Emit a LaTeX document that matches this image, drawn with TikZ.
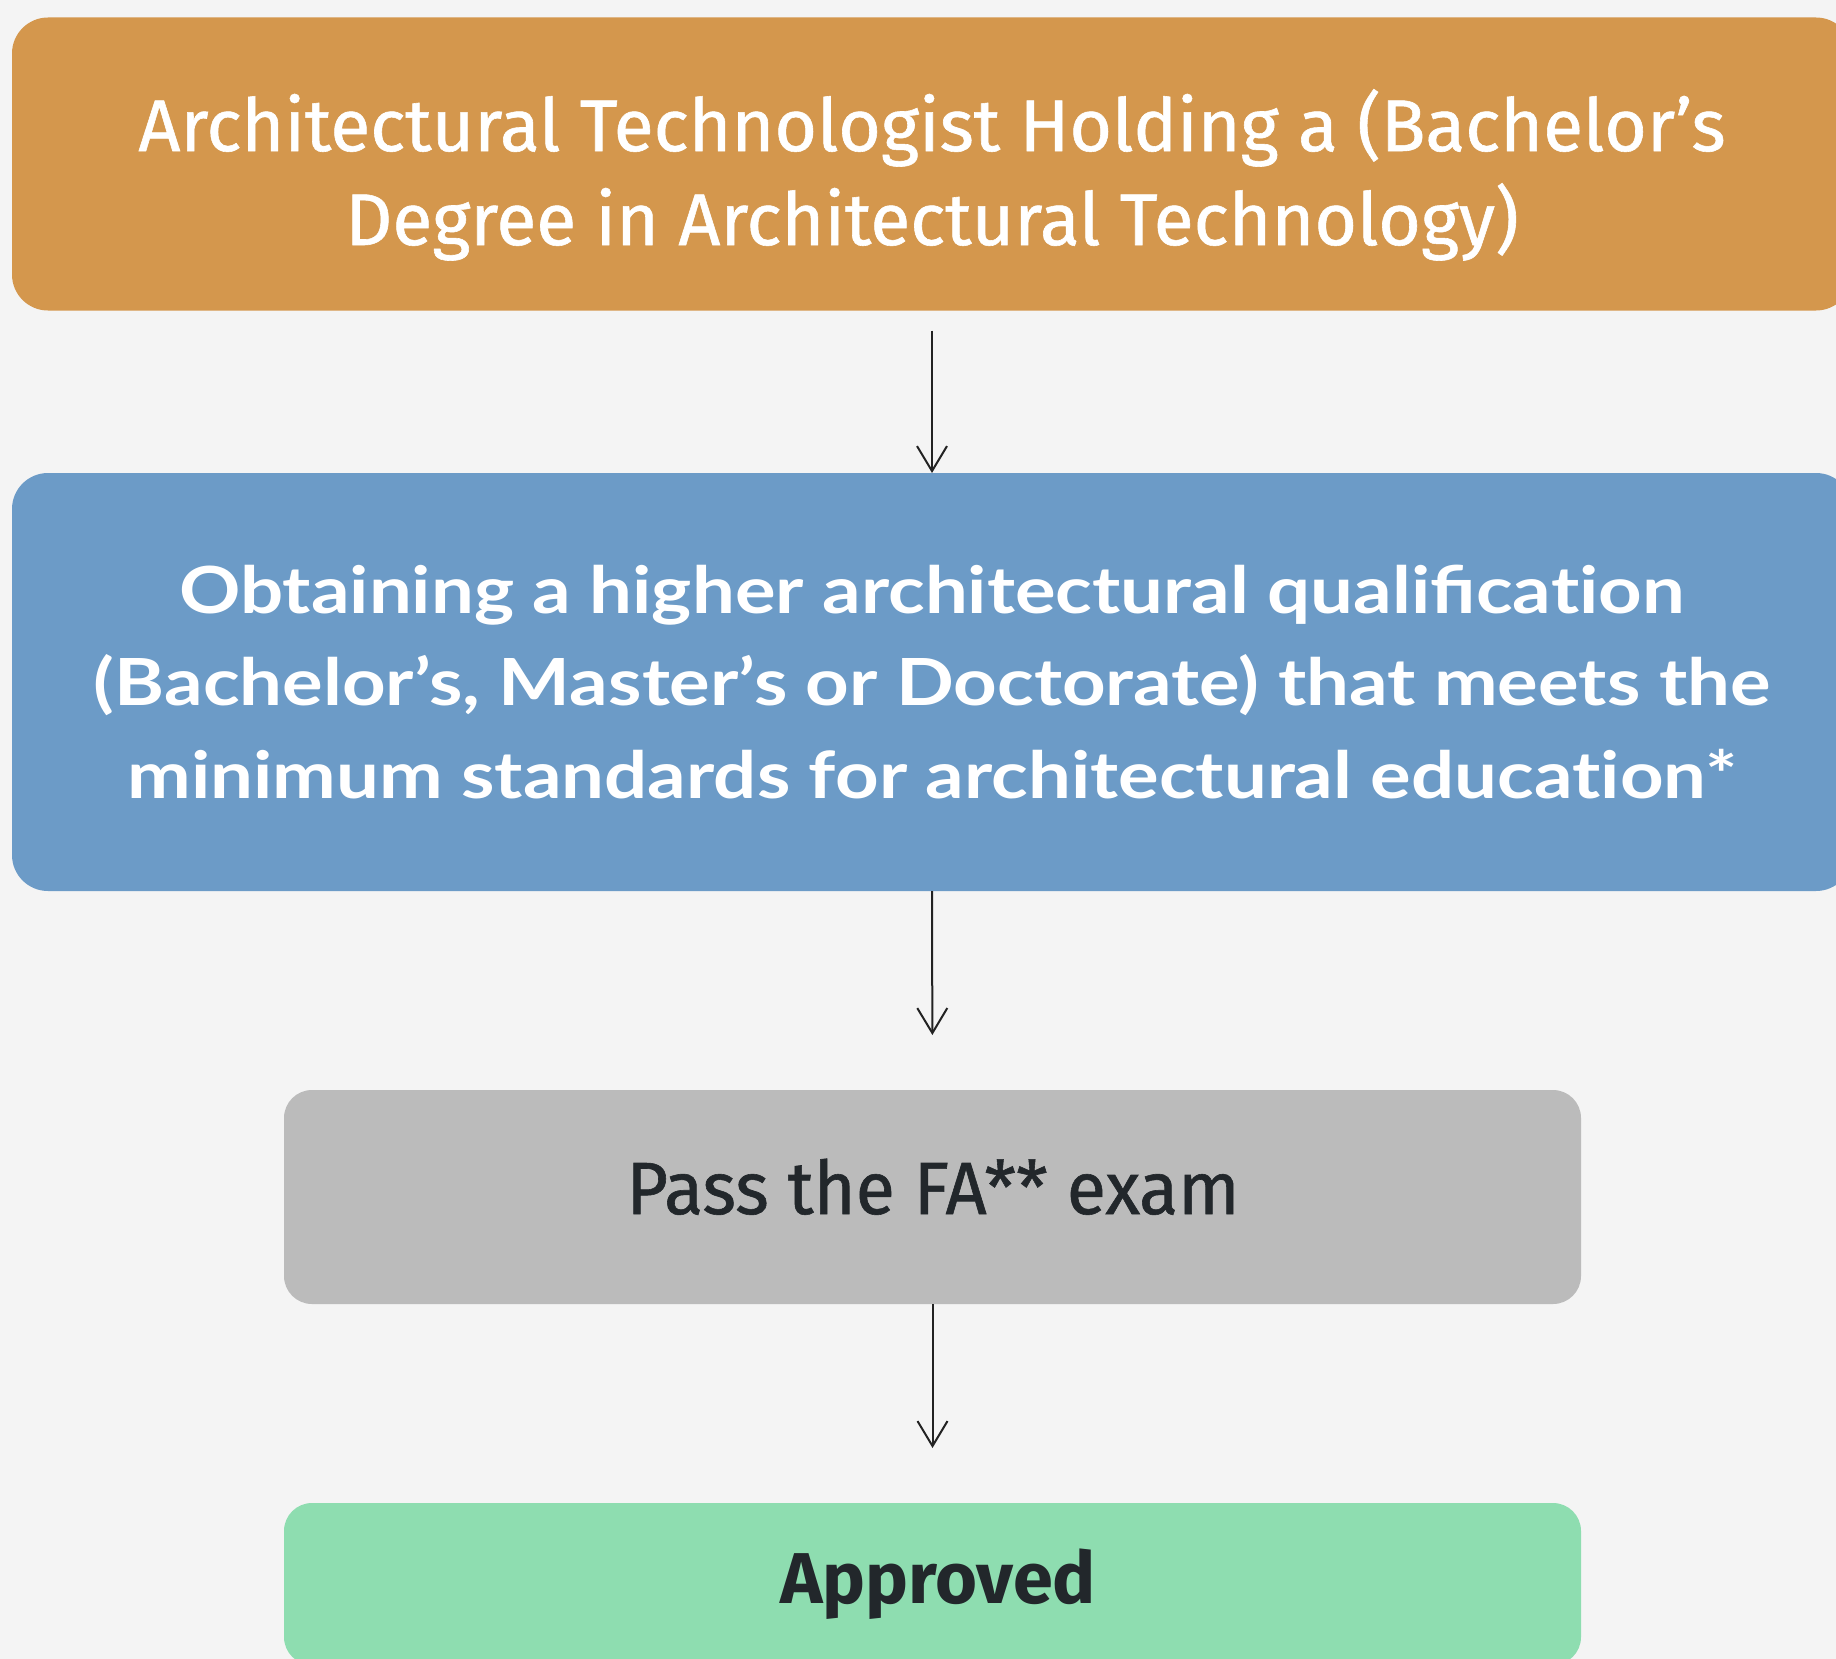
\documentclass[tikz,border=0pt]{standalone}
\usepackage{fontspec}
\usetikzlibrary{arrows.meta}
\newfontfamily\topfont[FakeBold=0.8]{Fira Sans}
\newfontfamily\examfont[FakeStretch=0.97,FakeBold=0.8]{Fira Sans}
\newfontfamily\okfont{Fira Sans}
\newfontfamily\bluefont[FakeStretch=1.17]{Lato}
\definecolor{bgc}{HTML}{F4F4F4}
\definecolor{orangec}{HTML}{D4974D}
\definecolor{bluec}{HTML}{6C9BC7}
\definecolor{greyc}{HTML}{BBBBBB}
\definecolor{greenc}{HTML}{8EDDB0}
\definecolor{darkc}{HTML}{22272B}
\definecolor{arrowc}{HTML}{222222}
\begin{document}
\begin{tikzpicture}[x=0.5pt,y=-0.5pt,
  box/.style={rounded corners=18pt, inner sep=0pt, outer sep=0pt, draw=none},
  smallbox/.style={box, rounded corners=14pt, minimum width=648.5pt},
  arr/.style={draw=arrowc, line width=1pt, -{Straight Barb[length=12.5pt,width=15pt]}},
  label/.style={anchor=base, align=center, inner sep=0pt}]
\clip (0,0) rectangle (1836,1659);
\fill[bgc] (0,0) rectangle (1836,1659);
\node[box, fill=orangec, minimum width=920pt, minimum height=146.5pt] (top) at (932,164) {};
\node[box, fill=bluec, minimum width=920pt, minimum height=209pt] (mid) at (932,682) {};
\node[smallbox, fill=greyc, minimum height=107pt] (exam) at (932.5,1197) {};
\node[smallbox, fill=greenc, minimum height=81pt] (ok) at (932.5,1584) {};
\node[label, text=white, font=\topfont\fontsize{36.6pt}{47pt}\selectfont] (toptext) at (932,245)
  {Architectural Technologist Holding a (Bachelor’s\\Degree in Architectural Technology)};
\node[label, text=white, font=\bluefont\bfseries\fontsize{32.5pt}{46.25pt}\selectfont] (midtext) at (932,798)
  {Obtaining a higher architectural qualificat\kern0pt ion\\(Bachelor’s, Master’s or Doctorate) that meets the\\minimum standards for architectural educat\kern0pt ion*};
\node[label, text=darkc, font=\examfont\fontsize{37pt}{47pt}\selectfont] (examtext) at (933,1214) {Pass the FA** exam};
\node[label, text=darkc, font=\okfont\bfseries\fontsize{36pt}{47pt}\selectfont] (oktext) at (938,1603) {Approved};
\draw[arr, shorten <=10pt] (top.south) -- (mid.north);
\draw[arr, shorten >=27.5pt] (mid.south) -- (exam.north);
\draw[arr, shorten >=27.5pt] (exam.south) -- (ok.north);
\end{tikzpicture}
\end{document}
